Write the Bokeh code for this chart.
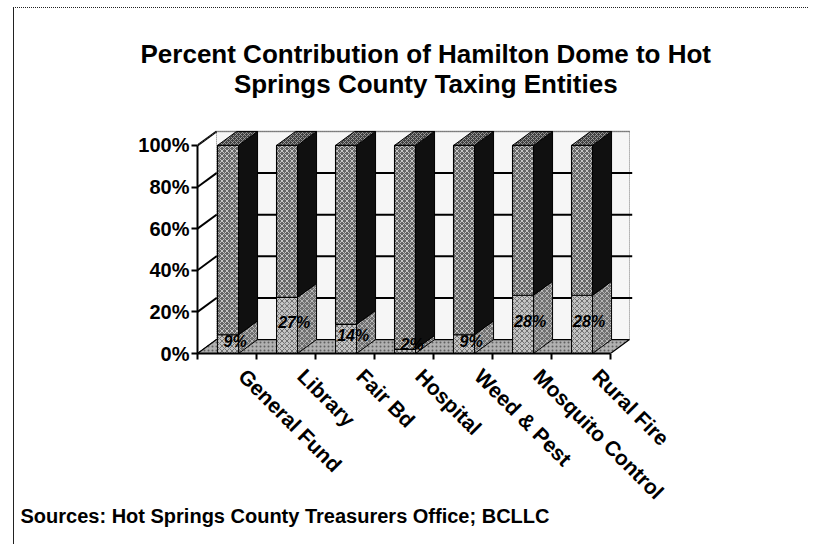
import math
from bokeh.plotting import figure
from bokeh.models import (Range1d, FixedTicker, PrintfTickFormatter, Title, ColumnDataSource)
from bokeh.core.properties import value
from bokeh.embed import file_html
from bokeh.resources import INLINE

# ---- data ----
categories = ["General Fund", "Library", "Fair Bd", "Hospital", "Weed & Pest",
              "Mosquito Control", "Rural Fire"]
hamilton_pct = [9, 27, 14, 2, 9, 28, 28]          # Hamilton Dome share
other_pct = [100 - v for v in hamilton_pct]        # remainder to 100%
y_ticks = [0, 20, 40, 60, 80, 100]
title_lines = ["Percent Contribution of Hamilton Dome to Hot",
               "Springs County Taxing Entities"]
source_text = "Sources:  Hot Springs County Treasurers Office;  BCLLC"

# ---- styling / geometry ----
FONT = "Liberation Sans"
n = len(categories)
DX, DY = 0.322, 6.7          # 3-D depth offset (x in category units, y in %)
BAR_OFF, BAR_W = 0.34, 0.356

p = figure(width=795, height=537, output_backend="svg", toolbar_location=None,
           x_range=Range1d(0, 7.373), y_range=Range1d(0, 108.6),
           min_border_left=183, min_border_right=177, min_border_top=118,
           min_border_bottom=192, background_fill_color="white",
           border_fill_color="white", outline_line_color=None,
           styles={"margin-left": "13px", "margin-top": "7px",
                   "border-left": "1px solid #222", "border-top": "1px dotted #222"})
p.grid.visible = False

# back wall
p.patch([DX, n + DX, n + DX, DX], [DY, DY, 100 + DY, 100 + DY],
        fill_color="#f6f6f6", line_color="#777", line_dash="1 1", line_width=1)
for v in y_ticks[1:-1]:
    p.line([DX, n + DX + 0.05], [v + DY, v + DY], line_color="black", line_width=2)
p.line([DX, n + DX], [100 + DY, 100 + DY], line_color="#444", line_dash="1 1", line_width=1.5)
# side wall diagonals
for v in y_ticks:
    p.line([0, DX], [v, v + DY], line_color="black", line_width=2 if v > 0 else 1)
p.line([0, DX], [100, 100 + DY], line_color="#555", line_dash="1 1")
# floor
p.patch([0, n, n + DX, DX], [0, 0, DY, DY], fill_color="#b0b0b0",
        hatch_pattern=".", hatch_color="#606060", hatch_scale=4,
        line_color="black", line_width=1.2)

# bars
for i, (h, o) in enumerate(zip(hamilton_pct, other_pct)):
    l = i + BAR_OFF
    r = l + BAR_W
    p.patch([l, r, r, l], [0, 0, h, h], fill_color="#c4c4c4", hatch_pattern="x",
            hatch_color="#5a5a5a", hatch_scale=5, hatch_weight=0.8,
            line_color="black", line_width=1)
    p.patch([l, r, r, l], [h, h, h + o, h + o], fill_color="#666666", hatch_pattern="x",
            hatch_color="#d2d2d2", hatch_scale=5, hatch_weight=0.9,
            line_color="black", line_width=1.2)
    p.patch([r, r + DX, r + DX, r], [0, DY, h + DY, h], fill_color="#707070",
            hatch_pattern="x", hatch_color="#c8c8c8", hatch_scale=5, hatch_weight=0.8,
            line_color="black", line_width=1)
    p.patch([r, r + DX, r + DX, r], [h, h + DY, h + o + DY, h + o],
            fill_color="#101010", line_color="black", line_width=1)
    p.patch([l, r, r + DX, l + DX], [h + o, h + o, h + o + DY, h + o + DY],
            fill_color="#404040", hatch_pattern="x", hatch_color="#a8a8a8",
            hatch_scale=4, hatch_weight=0.8, line_color="black", line_width=1)

# data labels
src = ColumnDataSource(dict(
    x=[i + BAR_OFF + BAR_W / 2 + 0.12 for i in range(n)],
    y=[max(h / 2 + 1.5, 4.5) for h in hamilton_pct],
    t=[f"{h}%" for h in hamilton_pct]))
p.text("x", "y", text="t", source=src, text_align="center", text_baseline="middle",
       text_font=value(FONT), text_font_size="16px", text_font_style="bold italic",
       text_color="black")

# y axis
ya = p.yaxis[0]
ya.ticker = FixedTicker(ticks=y_ticks)
ya.formatter = PrintfTickFormatter(format="%d%%")
ya.bounds = (0, 100)
ya.major_tick_out = 6
ya.major_tick_in = 0
ya.minor_tick_out = 0
ya.minor_tick_in = 0
ya.axis_line_width = 2
ya.major_tick_line_width = 2
ya.major_label_standoff = 2
ya.major_label_text_font = FONT
ya.major_label_text_font_size = "20px"
ya.major_label_text_font_style = "bold"
ya.major_label_text_color = "black"

# x axis (labels slightly right of category centres, as in the original)
label_pos = [i + 0.5 + 0.26 for i in range(n)]
xa = p.xaxis[0]
xa.ticker = FixedTicker(ticks=label_pos, minor_ticks=list(range(n + 1)))
xa.major_label_overrides = {c: name for c, name in zip(label_pos, categories)}
xa.bounds = (0, n)
xa.major_tick_out = 0
xa.major_tick_in = 0
xa.minor_tick_out = 6
xa.minor_tick_in = 0
xa.minor_tick_line_width = 2
xa.axis_line_width = 2
xa.major_label_orientation = -math.pi / 4
xa.major_label_standoff = 13
xa.major_label_text_font = FONT
xa.major_label_text_font_size = "21px"
xa.major_label_text_font_style = "bold"
xa.major_label_text_color = "black"

# title (two centred lines) & source
p.title.visible = False
p.add_layout(Title(text="\n".join(title_lines), align="left", offset=-57, standoff=57,
                   text_align="center", text_font=FONT, text_font_size="26px",
                   text_font_style="bold", text_line_height=1.0, text_color="black"),
             "above")
p.add_layout(Title(text=source_text, align="left", offset=-177, standoff=-24,
                   text_font=FONT, text_font_size="20px", text_font_style="bold",
                   text_color="black"), "below")

open("out.html", "w").write(file_html(p, INLINE))
